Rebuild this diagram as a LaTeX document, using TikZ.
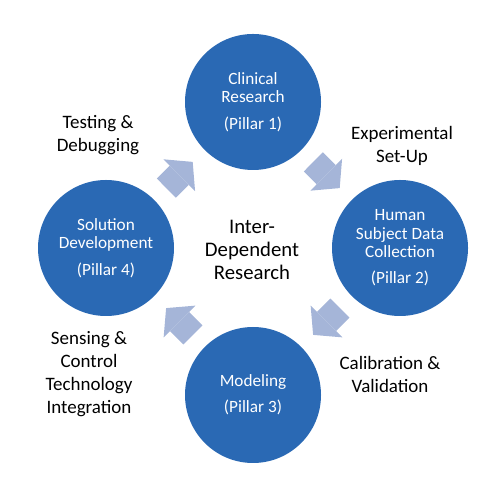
\documentclass[tikz,border=0pt]{standalone}
\usepackage{fontspec}
\setmainfont{Carlito}
\usetikzlibrary{arrows.meta,positioning}
\definecolor{pillarblue}{RGB}{42,105,180}
\definecolor{flowblue}{RGB}{165,181,216}

\begin{document}
\begin{tikzpicture}[
    pillar/.style={circle, fill=pillarblue, minimum size=2.72cm, inner sep=0pt, outer sep=0pt, align=center, text=white, font=\fontsize{9.8}{10.4}\selectfont},
    lbl/.style={align=center, font=\fontsize{10.8}{13.1}\selectfont},
    flow/.style={-{Triangle[length=0.38cm, width=0.9cm, line width=0pt]}, line width=0.54cm, draw=flowblue, shorten <=0.34cm, shorten >=0.34cm}
]
\useasboundingbox (0,0) rectangle (10,10);

\node[pillar] (p1) at (5.06,7.96) {Clinical\\Research\\[4.5pt](Pillar 1)};
\node[pillar] (p2) at (8.0,5.04) {Human\\Subject Data\\Collection\\[4.5pt](Pillar 2)};
\node[pillar] (p3) at (5.06,2.1) {Modeling\\[4.5pt](Pillar 3)};
\node[pillar] (p4) at (2.12,5.04) {Solution\\Development\\[4.5pt](Pillar 4)};

\node[lbl, font=\fontsize{11.8}{13.3}\selectfont] (core) at (5.04,5.0) {Inter-\\Dependent\\Research};

\node[lbl] (l12) at (8.04,7.08) {Experimental\\Set-Up};
\node[lbl] (l23) at (7.8,2.52) {Calibration \&\\Validation};
\node[lbl] (l34) at (1.78,2.52) {Sensing \&\\Control\\Technology\\Integration};
\node[lbl] (l41) at (1.96,7.3) {Testing \&\\Debugging};

\draw[flow] (p1) -- (p2);
\draw[flow] (p2) -- (p3);
\draw[flow] (p3) -- (p4);
\draw[flow] (p4) -- (p1);
\end{tikzpicture}
\end{document}
